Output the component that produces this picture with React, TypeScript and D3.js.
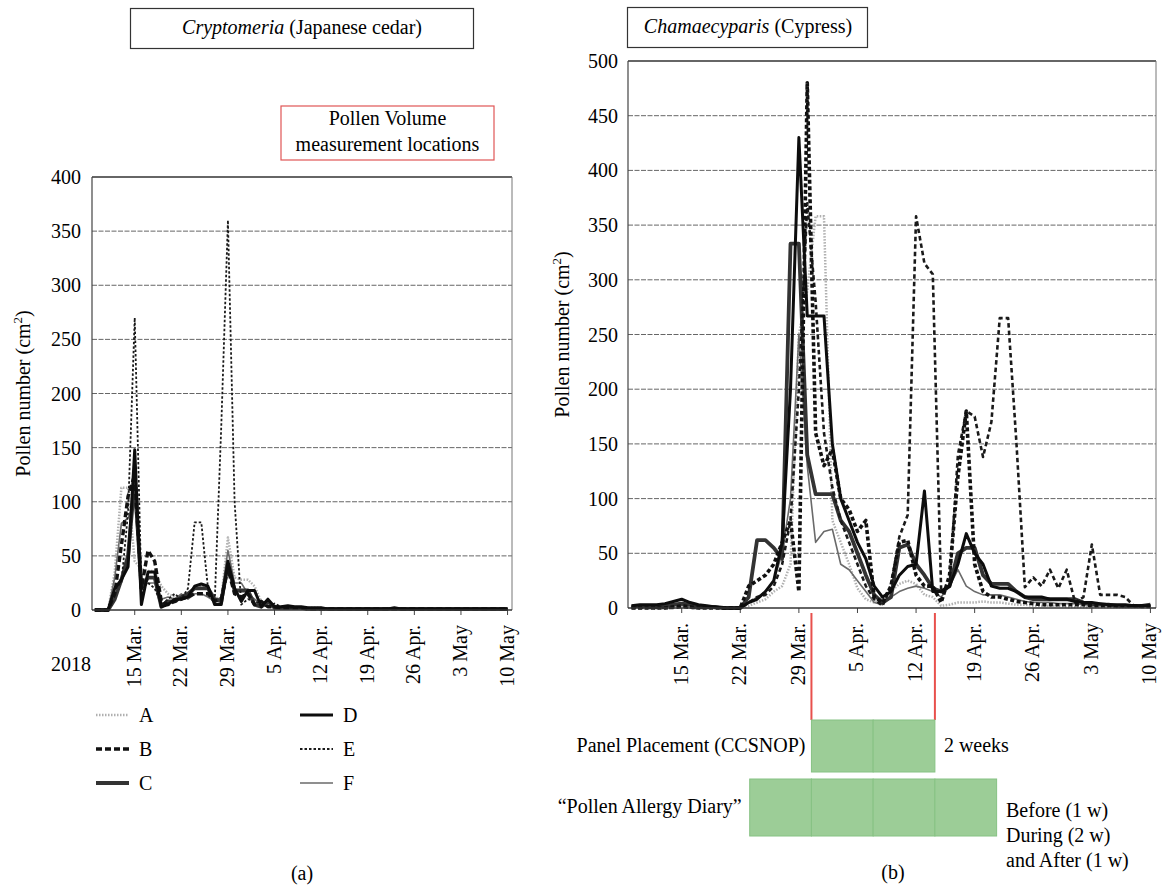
import * as d3 from 'd3';

// daily counts, 9 Mar – 10 May 2018 (63 days)
const firstDay = new Date(2018, 2, 9);

const cedarA = [0, 0, 0, 35, 113, 113, 45, 38, 36, 36, 22, 15, 12, 12, 14, 20, 22, 18, 12, 10, 67, 30, 28, 28, 22, 8, 5, 4, 3, 3, 3, 2, 2, 2, 2, 1, 1, 1, 1, 1, 1, 1, 1, 1, 1, 1, 1, 1, 1, 1, 1, 1, 1, 1, 1, 1, 1, 1, 1, 1, 1, 1, 1];
const cedarB = [0, 0, 0, 15, 60, 105, 125, 20, 55, 45, 8, 5, 8, 10, 12, 15, 15, 15, 8, 10, 38, 15, 12, 15, 5, 8, 3, 3, 2, 2, 2, 2, 1, 1, 1, 1, 1, 1, 1, 1, 1, 1, 1, 1, 1, 1, 1, 1, 1, 1, 1, 1, 1, 1, 1, 1, 1, 1, 1, 1, 1, 1, 1];
const cedarC = [0, 0, 0, 10, 28, 50, 120, 20, 30, 30, 3, 8, 8, 12, 15, 20, 20, 20, 10, 8, 42, 18, 18, 18, 5, 3, 8, 2, 2, 2, 2, 2, 1, 1, 1, 1, 1, 1, 1, 1, 1, 1, 1, 1, 1, 1, 1, 1, 1, 1, 1, 1, 1, 1, 1, 1, 1, 1, 1, 1, 1, 1, 1];
const cedarD = [0, 0, 0, 20, 28, 40, 148, 5, 35, 35, 3, 5, 10, 10, 12, 22, 24, 22, 5, 5, 45, 20, 8, 18, 18, 3, 10, 3, 3, 4, 3, 3, 2, 2, 2, 1, 1, 1, 1, 1, 1, 1, 1, 1, 1, 2, 1, 1, 1, 1, 1, 1, 1, 1, 1, 1, 1, 1, 1, 1, 1, 1, 1];
const cedarE = [0, 0, 0, 20, 25, 90, 270, 20, 25, 20, 5, 10, 15, 10, 20, 81, 81, 20, 5, 170, 360, 100, 5, 10, 8, 5, 3, 6, 3, 2, 2, 2, 2, 1, 1, 1, 1, 1, 1, 1, 1, 1, 1, 1, 1, 1, 1, 1, 1, 1, 1, 1, 1, 1, 1, 1, 1, 1, 1, 1, 1, 1, 1];
const cedarF = [0, 0, 0, 30, 80, 85, 100, 20, 25, 25, 10, 12, 10, 15, 10, 15, 15, 12, 8, 12, 55, 25, 25, 15, 10, 5, 4, 3, 3, 2, 2, 2, 2, 1, 1, 1, 1, 1, 1, 1, 1, 1, 1, 1, 1, 1, 1, 1, 1, 1, 1, 1, 1, 1, 1, 1, 1, 1, 1, 1, 1, 1, 1];

const cypressA = [1, 1, 1, 1, 1, 2, 3, 2, 1, 1, 0, 0, 0, 0, 2, 5, 8, 15, 20, 40, 250, 290, 358, 358, 80, 60, 40, 18, 8, 5, 10, 15, 22, 25, 22, 12, 10, 2, 3, 5, 5, 5, 6, 5, 5, 4, 3, 3, 2, 2, 2, 2, 1, 1, 1, 1, 1, 1, 1, 1, 1, 1, 1];
const cypressB = [0, 0, 0, 0, 0, 1, 2, 1, 0, 0, 0, 0, 0, 0, 20, 25, 30, 40, 60, 80, 15, 480, 160, 130, 145, 100, 90, 70, 80, 10, 5, 20, 60, 62, 30, 20, 20, 5, 30, 120, 180, 40, 15, 10, 10, 8, 6, 5, 4, 3, 3, 3, 3, 3, 3, 2, 2, 2, 2, 2, 2, 2, 2];
const cypressC = [1, 2, 2, 2, 2, 3, 4, 3, 2, 1, 1, 0, 0, 0, 10, 62, 62, 55, 45, 333, 333, 140, 104, 104, 104, 80, 70, 50, 30, 12, 5, 10, 55, 58, 40, 30, 18, 15, 20, 50, 55, 55, 30, 22, 22, 22, 15, 10, 8, 8, 8, 8, 8, 8, 5, 3, 3, 3, 2, 2, 2, 2, 3];
const cypressD = [2, 3, 3, 3, 4, 6, 8, 5, 3, 2, 1, 0, 0, 0, 5, 8, 15, 25, 60, 200, 430, 267, 267, 267, 150, 100, 80, 60, 45, 20, 10, 15, 30, 38, 40, 107, 15, 15, 20, 40, 68, 50, 40, 20, 18, 18, 15, 10, 10, 10, 8, 8, 8, 6, 5, 5, 4, 3, 3, 3, 2, 2, 2];
const cypressE = [0, 0, 0, 0, 0, 0, 1, 0, 0, 0, 0, 0, 0, 0, 5, 10, 12, 20, 40, 80, 200, 370, 280, 160, 110, 80, 60, 40, 20, 8, 2, 20, 65, 85, 358, 315, 305, 15, 20, 140, 180, 175, 138, 170, 265, 265, 150, 19, 28, 20, 35, 18, 35, 5, 10, 58, 12, 12, 12, 10, 2, 1, 1];
const cypressF = [1, 1, 1, 1, 1, 2, 2, 2, 1, 1, 0, 0, 0, 0, 5, 10, 15, 25, 50, 100, 250, 130, 60, 70, 72, 40, 35, 25, 15, 5, 3, 10, 15, 18, 20, 18, 15, 10, 20, 35, 20, 15, 12, 12, 12, 10, 8, 6, 5, 5, 5, 4, 4, 4, 3, 3, 3, 2, 2, 2, 2, 2, 2];

const tickDates = [
  new Date(2018, 2, 15), new Date(2018, 2, 22), new Date(2018, 2, 29),
  new Date(2018, 3, 5), new Date(2018, 3, 12), new Date(2018, 3, 19),
  new Date(2018, 3, 26), new Date(2018, 4, 3), new Date(2018, 4, 10),
];
const tickLabels = ['15 Mar.', '22 Mar.', '29 Mar.', '5 Apr.', '12 Apr.', '19 Apr.', '26 Apr.', '3 May', '10 May'];
const legendKeys = ['A', 'B', 'C', 'D', 'E', 'F'];

// CCSNOP panel placement period
const panelStart = new Date(2018, 2, 30, 12);
const panelEnd = new Date(2018, 3, 14, 6);

const xDomain: [Date, Date] = [new Date(2018, 2, 8, 14), new Date(2018, 4, 10, 16)];

const FONT = '"Liberation Serif", "DejaVu Serif", serif';

type Style = { stroke: string; width: number; dash?: string };
const styles: Record<string, Style> = {
  A: { stroke: '#b0b0b0', width: 2.5, dash: '1.5,1.5' },
  B: { stroke: '#111', width: 3.4, dash: '6,3' },
  C: { stroke: '#333', width: 3.8 },
  D: { stroke: '#0d0d0d', width: 3 },
  E: { stroke: '#1a1a1a', width: 1.8, dash: '2.5,2' },
  F: { stroke: '#6a6a6a', width: 1.6 },
};
// the cypress scan shows heavier dashes for B and E
const cypressStyles: Record<string, Style> = {
  ...styles,
  B: { stroke: '#111', width: 3.6, dash: '4,2.5' },
  E: { stroke: '#1a1a1a', width: 2.6, dash: '4.5,3' },
};
const drawOrder = ['A', 'F', 'C', 'E', 'B', 'D'];

type ChartProps = {
  left: number;
  right: number;
  top: number;
  bottom: number;
  yMax: number;
  labelRight: number;
  titleX: number;
  series: Record<string, number[]>;
  lineStyles: Record<string, Style>;
};

const Chart = ({ left, right, top, bottom, yMax, labelRight, titleX, series, lineStyles }: ChartProps) => {
  const x = d3.scaleTime().domain(xDomain).range([left, right]);
  const y = d3.scaleLinear().domain([0, yMax]).range([bottom, top]);
  const line = d3
    .line<number>()
    .x((_, i) => x(d3.timeDay.offset(firstDay, i)))
    .y((v) => y(v));
  const grid = d3.range(50, yMax, 50);
  const yTicks = d3.range(0, yMax + 1, 50);

  return (
    <g>
      {grid.map((v) => (
        <line key={v} x1={left} x2={right} y1={y(v)} y2={y(v)} stroke='#666' strokeWidth={1} strokeDasharray='5,1.5' />
      ))}
      <line x1={left} x2={right} y1={top} y2={top} stroke='#333' strokeWidth={1.6} />
      <line x1={right} x2={right} y1={top} y2={bottom} stroke='#777' strokeWidth={1} />
      <line x1={left} x2={left} y1={top} y2={bottom} stroke='#444' strokeWidth={1.2} />
      {yTicks.map((v) => (
        <text key={v} x={labelRight} y={y(v)} dy='0.35em' textAnchor='end' fontSize={20} fontFamily={FONT}>
          {v}
        </text>
      ))}
      {tickDates.map((d, i) => (
        <g key={i}>
          <line x1={x(d)} x2={x(d)} y1={bottom} y2={bottom + 5} stroke='#444' strokeWidth={1} />
          <text
            transform={`translate(${x(d) + 6},${bottom + 15}) rotate(-90)`}
            textAnchor='end'
            fontSize={20}
            fontFamily={FONT}
          >
            {tickLabels[i]}
          </text>
        </g>
      ))}
      <text
        transform={`translate(${titleX},${(top + bottom) / 2}) rotate(-90)`}
        textAnchor='middle'
        dy='0.35em'
        fontSize={20}
        fontFamily={FONT}
      >
        Pollen number (cm
        <tspan dy={-8} fontSize={13}>
          2
        </tspan>
        <tspan dy={8}>)</tspan>
      </text>
      {drawOrder.map((k) => {
        const s = lineStyles[k];
        return (
          <path
            key={k}
            d={line(series[k]) ?? ''}
            fill='none'
            stroke={s.stroke}
            strokeWidth={s.width}
            strokeDasharray={s.dash}
            strokeLinejoin='round'
          />
        );
      })}
      <line x1={left} x2={right} y1={bottom} y2={bottom} stroke='#333' strokeWidth={1.6} />
    </g>
  );
};

const App = () => {
  const xRight = d3.scaleTime().domain(xDomain).range([628, 1156]);
  const p1 = xRight(panelStart);
  const p2 = xRight(panelEnd);
  const wk = (p2 - p1) / 2;
  const green = '#9ccd97';
  const greenEdge = '#86c283';

  return (
    <svg width={1162} height={887} style={{ position: 'absolute', left: 0, top: 0, background: '#fff' }}>
      {/* titles */}
      <rect x={130.5} y={8.5} width={343} height={40} fill='none' stroke='#333' strokeWidth={1.2} />
      <text x={302} y={34} textAnchor='middle' fontSize={20} fontFamily={FONT}>
        <tspan fontStyle='italic'>Cryptomeria</tspan> (Japanese cedar)
      </text>
      <rect x={627.5} y={7.5} width={240} height={40} fill='none' stroke='#333' strokeWidth={1.2} />
      <text x={748} y={33} textAnchor='middle' fontSize={20} fontFamily={FONT}>
        <tspan fontStyle='italic'>Chamaecyparis</tspan> (Cypress)
      </text>
      <rect x={281} y={106} width={213} height={54} fill='#fff' stroke='#e05555' strokeWidth={1.2} />
      <text x={387.5} y={125} textAnchor='middle' fontSize={20} fontFamily={FONT}>
        Pollen Volume
      </text>
      <text x={387.5} y={151} textAnchor='middle' fontSize={20} fontFamily={FONT}>
        measurement locations
      </text>

      <Chart
        left={92}
        right={512}
        top={177}
        bottom={610}
        yMax={400}
        labelRight={81}
        titleX={23}
        series={{ A: cedarA, B: cedarB, C: cedarC, D: cedarD, E: cedarE, F: cedarF }}
        lineStyles={styles}
      />
      <Chart
        left={628}
        right={1156}
        top={61}
        bottom={608}
        yMax={500}
        labelRight={618}
        titleX={562}
        series={{ A: cypressA, B: cypressB, C: cypressC, D: cypressD, E: cypressE, F: cypressF }}
        lineStyles={cypressStyles}
      />

      <text x={51} y={671} fontSize={20} fontFamily={FONT}>
        2018
      </text>

      {/* legend */}
      {legendKeys.map((k, i) => {
        const col = i < 3 ? 0 : 1;
        const row = i % 3;
        const lx = col === 0 ? 96 : 300;
        const ly = 715 + row * 34;
        const s = styles[k];
        return (
          <g key={k}>
            <line x1={lx} x2={lx + 33} y1={ly} y2={ly} stroke={s.stroke} strokeWidth={s.width} strokeDasharray={s.dash} />
            <text x={lx + 43} y={ly} dy='0.35em' fontSize={20} fontFamily={FONT}>
              {k}
            </text>
          </g>
        );
      })}

      {/* study schedule */}
      <line x1={p1} x2={p1} y1={613} y2={720} stroke='#e8504c' strokeWidth={2} />
      <line x1={p2} x2={p2} y1={613} y2={720} stroke='#e8504c' strokeWidth={2} />
      {[0, 1].map((i) => (
        <rect key={i} x={p1 + i * wk} y={720} width={wk} height={52} fill={green} stroke={greenEdge} strokeWidth={1} />
      ))}
      {[-1, 0, 1, 2].map((i) => (
        <rect key={i} x={p1 + i * wk} y={779} width={wk} height={57} fill={green} stroke={greenEdge} strokeWidth={1} />
      ))}
      <text x={p1 - 6} y={752} textAnchor='end' fontSize={20} fontFamily={FONT}>
        Panel Placement (CCSNOP)
      </text>
      <text x={p2 + 9} y={752} fontSize={20} fontFamily={FONT}>
        2 weeks
      </text>
      <text x={p1 - wk - 8} y={813} textAnchor='end' fontSize={20} fontFamily={FONT}>
        “Pollen Allergy Diary”
      </text>
      <text x={1006} y={817} fontSize={20} fontFamily={FONT}>
        Before (1 w)
      </text>
      <text x={1006} y={842} fontSize={20} fontFamily={FONT}>
        During (2 w)
      </text>
      <text x={1006} y={867} fontSize={20} fontFamily={FONT}>
        and After (1 w)
      </text>

      <text x={302} y={880} textAnchor='middle' fontSize={20} fontFamily={FONT}>
        (a)
      </text>
      <text x={893} y={879} textAnchor='middle' fontSize={20} fontFamily={FONT}>
        (b)
      </text>
    </svg>
  );
};

export default App;
